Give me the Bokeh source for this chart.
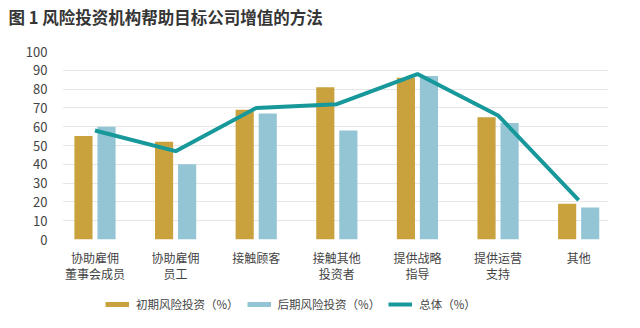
import numpy as np
from bokeh.plotting import figure
from bokeh.layouts import column
from bokeh.models import Range1d, FixedTicker, Legend, LegendItem, Title
from bokeh.embed import file_html
from bokeh.resources import INLINE

title_text = "图 1  风险投资机构帮助目标公司增值的方法"
categories = ["协助雇佣\n董事会成员", "协助雇佣\n员工", "接触顾客", "接触其他\n投资者", "提供战略\n指导", "提供运营\n支持", "其他"]
early = [55, 52, 69, 81, 86, 65, 19]
late = [60, 40, 67, 58, 87, 62, 17]
total = [58, 47, 70, 72, 88, 66, 21]
series_names = ["初期风险投资（%）", "后期风险投资（%）", "总体（%）"]
y_ticks = list(range(0, 101, 10))

GOLD = "#C9A23D"
BLUE = "#93C5D4"
TEAL = "#17989A"
FONT = "Noto Sans CJK SC"

idx = np.arange(len(categories))

p = figure(width=640, height=288, output_backend="svg", toolbar_location=None,
           x_range=Range1d(-0.403, 6.37), y_range=Range1d(0, 100),
           min_border_left=62, min_border_right=32, min_border_top=0, min_border_bottom=49)
p.outline_line_color = None
p.background_fill_color = "white"
p.border_fill_color = "white"

p.xgrid.grid_line_color = None
p.ygrid.grid_line_color = "#E6E6E6"
p.ygrid.grid_line_width = 1
p.ygrid.ticker = FixedTicker(ticks=y_ticks)

p.yaxis.ticker = FixedTicker(ticks=y_ticks)
p.yaxis.axis_line_color = None
p.yaxis.major_tick_line_color = None
p.yaxis.minor_tick_line_color = None
p.yaxis.major_label_text_font = FONT
p.yaxis.major_label_text_font_size = "13px"
p.yaxis.major_label_text_color = "#444444"
p.yaxis.major_label_standoff = 9

p.xaxis.ticker = FixedTicker(ticks=list(idx))
p.xaxis.major_label_overrides = {int(i): c for i, c in zip(idx, categories)}
p.xaxis.axis_line_color = None
p.xaxis.major_tick_line_color = None
p.xaxis.minor_tick_line_color = None
p.xaxis.major_label_text_font = FONT
p.xaxis.major_label_text_font_size = "12px"
p.xaxis.major_label_text_color = "#444444"
p.xaxis.major_label_text_line_height = 0.95
p.xaxis.major_label_standoff = 3

p.vbar(x=idx - 0.143, top=early, width=0.225, fill_color=GOLD, line_color=None)
p.vbar(x=idx + 0.143, top=late, width=0.225, fill_color=BLUE, line_color=None)
p.line(x=idx, y=total, line_color=TEAL, line_width=4)

# spacer (nearest the frame) then the real title further out
spacer = Title(text=" ", text_font=FONT, text_font_size="12.5px", standoff=0)
p.add_layout(spacer, "above")
title = Title(text=title_text, align="left", text_font=FONT, text_font_size="16.5px",
              text_color="#353535", text_font_style="bold", offset=-54, standoff=4)
p.add_layout(title, "above")

# legend strip below the chart
q = figure(width=640, height=40, output_backend="svg", toolbar_location=None,
           x_range=Range1d(0, 1), y_range=Range1d(0, 1),
           min_border_left=0, min_border_right=0, min_border_top=0, min_border_bottom=0)
q.axis.visible = False
q.grid.visible = False
q.outline_line_color = None
l1 = q.line(x=[np.nan], y=[np.nan], line_color=GOLD, line_width=5)
l2 = q.line(x=[np.nan], y=[np.nan], line_color=BLUE, line_width=5)
l3 = q.line(x=[np.nan], y=[np.nan], line_color=TEAL, line_width=4)
legend = Legend(items=[LegendItem(label=series_names[0], renderers=[l1]),
                       LegendItem(label=series_names[1], renderers=[l2]),
                       LegendItem(label=series_names[2], renderers=[l3])],
                orientation="horizontal", location=(43, 16),
                label_text_font=FONT, label_text_font_size="11.5px", label_text_color="#444444",
                glyph_width=24, glyph_height=14, label_standoff=7, spacing=8,
                padding=2, margin=0, border_line_color=None, background_fill_alpha=0)
q.add_layout(legend)

layout = column(p, q, spacing=0)
open("out.html", "w").write(file_html(layout, INLINE))
